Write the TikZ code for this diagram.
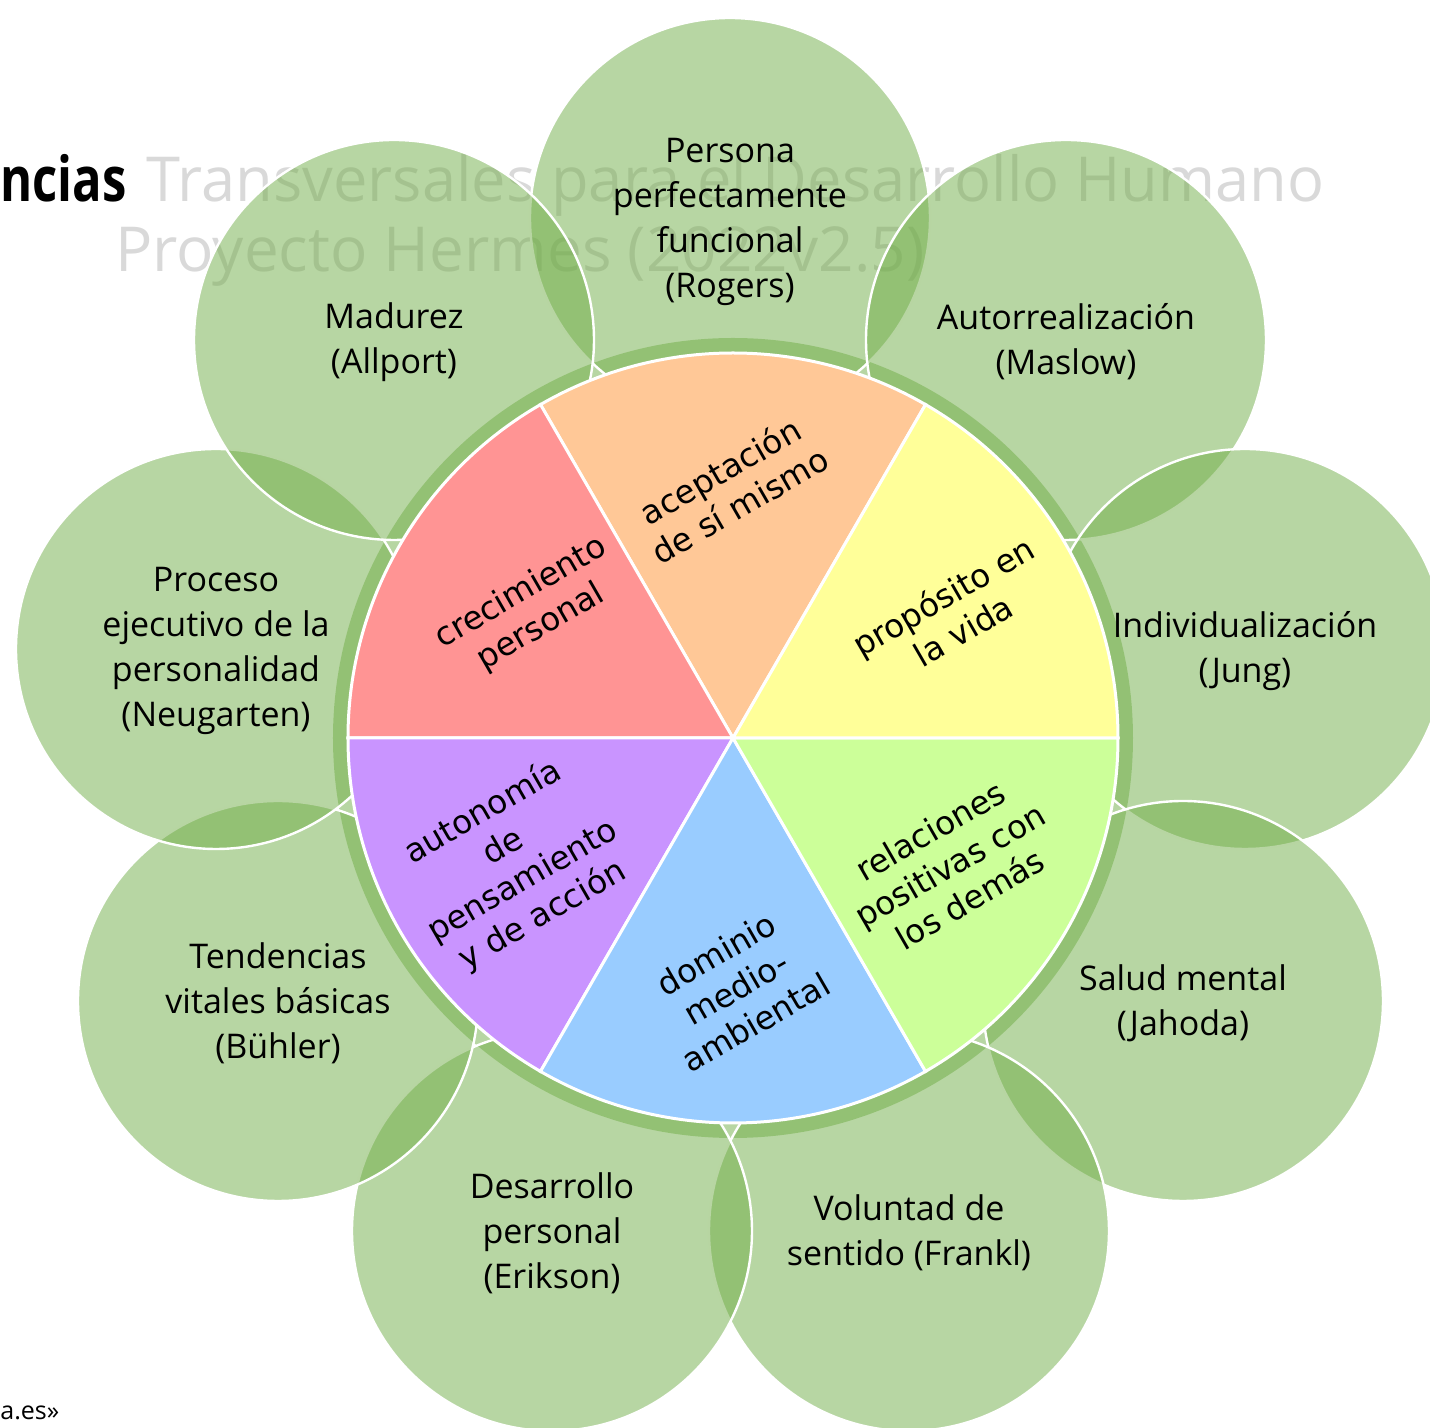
\documentclass[tikz,border=0pt]{standalone}
\usepackage{fontspec}
\setmainfont{Open Sans}
\newfontfamily\piefont{DejaVu Sans}
\definecolor{leaf}{HTML}{70AD47}
\definecolor{titlegray}{HTML}{D9D9D9}
\definecolor{wred}{HTML}{FF9494}
\definecolor{worange}{HTML}{FFC897}
\definecolor{wyellow}{HTML}{FFFF99}
\definecolor{wlime}{HTML}{CCFF99}
\definecolor{wblue}{HTML}{99CCFF}
\definecolor{wpurple}{HTML}{C994FF}
\begin{document}
\begin{tikzpicture}[x=0.5pt,y=0.5pt,
  petal/.style={circle, minimum size=200pt, inner sep=0pt, fill=leaf, fill opacity=0.5, draw=white, draw opacity=1, line width=1.2pt},
  petaltext/.style={align=center, font=\fontsize{17}{22.5}\selectfont, inner sep=0pt},
  wedge/.style={draw=white, line width=1.5pt},
  wedgetext/.style={align=center, font=\piefont\fontsize{16.3}{19.8}\selectfont, rotate=30, inner sep=0pt},
  titletext/.style={font=\fontsize{31}{37}\selectfont, inner sep=0pt}]
\useasboundingbox (-733,-690) rectangle (697,738);
% title behind
\node[titletext, anchor=base west] (tA) at (-733,536) {\scalebox{0.79}[1]{\bfseries ncias}};
\node[titletext, anchor=base east, text=titlegray] (tB) at (592,536) {\scalebox{0.99}[1]{Transversales para el Desarrollo Humano}};
\node[titletext, anchor=base, text=titlegray] (tC) at (-213,466) {Proyecto Hermes (2022v2.5)};
% ring
\fill[leaf, fill opacity=0.5] (0,0) circle (400);
% petals
\node[petal] (c1) at (-3,520) {};
\node[petal] (c2) at (333,398) {};
\node[petal] (c3) at (512,89) {};
\node[petal] (c4) at (450,-263) {};
\node[petal] (c5) at (176,-493) {};
\node[petal] (c6) at (-181,-493) {};
\node[petal] (c7) at (-455,-263) {};
\node[petal] (c8) at (-517,89) {};
\node[petal] (c9) at (-339,398) {};
% pie
\filldraw[wedge, fill=worange] (0,0) -- (60:385) arc[start angle=60, end angle=120, radius=385] -- cycle;
\filldraw[wedge, fill=wred] (0,0) -- (120:385) arc[start angle=120, end angle=180, radius=385] -- cycle;
\filldraw[wedge, fill=wpurple] (0,0) -- (180:385) arc[start angle=180, end angle=240, radius=385] -- cycle;
\filldraw[wedge, fill=wblue] (0,0) -- (240:385) arc[start angle=240, end angle=300, radius=385] -- cycle;
\filldraw[wedge, fill=wlime] (0,0) -- (300:385) arc[start angle=300, end angle=360, radius=385] -- cycle;
\filldraw[wedge, fill=wyellow] (0,0) -- (0:385) arc[start angle=0, end angle=60, radius=385] -- cycle;
% wedge texts
\node[wedgetext] (w1) at (-3,250) {aceptación\\de sí mismo};
\node[wedgetext] (w2) at (-202,128) {crecimiento\\personal};
\node[wedgetext] (w3) at (-220,-126) {autonomía\\de\\pensamiento\\y de acción};
\node[wedgetext] (w4) at (3,-250) {dominio\\medio-\\ambiental};
\node[wedgetext] (w5) at (217,-127) {relaciones\\positivas con\\los demás};
\node[wedgetext] (w6) at (220,125) {propósito en\\la vida};
% petal texts
\node[petaltext] (l1) at ([yshift=-2pt]c1.center) {Persona\\perfectamente\\funcional\\(Rogers)};
\node[petaltext] (l2) at ([yshift=-1pt]c2.center) {Autorrealización\\(Maslow)};
\node[petaltext] (l3) at ([yshift=-1pt]c3.center) {Individualización\\(Jung)};
\node[petaltext] (l4) at ([yshift=-1pt]c4.center) {Salud mental\\(Jahoda)};
\node[petaltext] (l5) at ([yshift=-1pt]c5.center) {Voluntad de\\sentido (Frankl)};
\node[petaltext] (l6) at ([yshift=-1pt]c6.center) {Desarrollo\\personal\\(Erikson)};
\node[petaltext] (l7) at ([yshift=-1pt]c7.center) {Tendencias\\vitales básicas\\(Bühler)};
\node[petaltext] (l8) at ([yshift=-1pt]c8.center) {Proceso\\ejecutivo de la\\personalidad\\(Neugarten)};
\node[petaltext] (l9) at ([yshift=-1pt]c9.center) {Madurez\\(Allport)};
% footer
\node[anchor=base west, font=\fontsize{12.5}{15}\selectfont, inner sep=0pt] (foot) at (-733,-682) {a.es»};
\end{tikzpicture}
\end{document}
